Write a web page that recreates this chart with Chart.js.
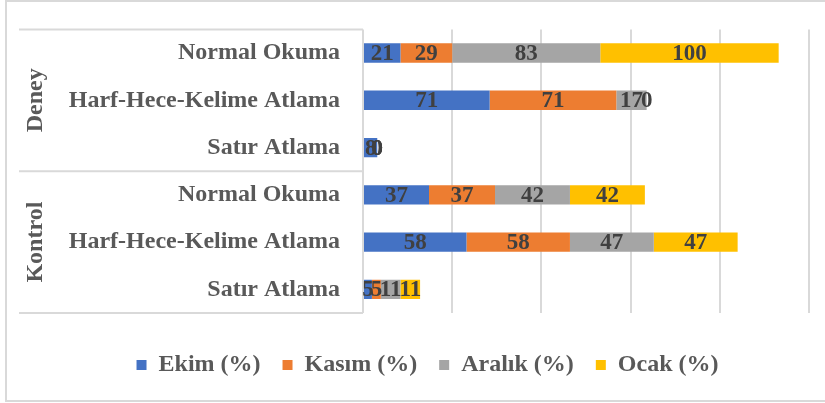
<!DOCTYPE html>
<html>
<head>
<meta charset="utf-8">
<script src="https://cdn.jsdelivr.net/npm/chart.js@4"></script>
<style>
  html, body { margin: 0; padding: 0; background: #fff; overflow: hidden; }
  #wrap { position: relative; width: 825px; height: 403px; }
</style>
</head>
<body>
<div id="wrap"><canvas id="chart" width="825" height="403"></canvas></div>
<script>
// data
const categories = ['Normal Okuma', 'Harf-Hece-Kelime Atlama', 'Satır Atlama',
                    'Normal Okuma', 'Harf-Hece-Kelime Atlama', 'Satır Atlama'];
const groups = ['Deney', 'Kontrol'];
const groupSize = 3;
const ekim = [21, 71, 8, 37, 58, 5];
const kasim = [29, 71, 0, 37, 58, 5];
const aralik = [83, 17, 0, 42, 47, 11];
const ocak = [100, 0, 0, 42, 47, 11];
const seriesNames = ['Ekim (%)', 'Kasım (%)', 'Aralık (%)', 'Ocak (%)'];
const seriesColors = ['#4472C4', '#ED7D31', '#A5A5A5', '#FFC000'];

const serif = "'Liberation Serif', 'Times New Roman', serif";
const lineGray = '#d9d9d9';

// border around the whole chart + the group boxes on the left
const framePlugin = {
  id: 'frame',
  beforeDraw(chart) {
    const ctx = chart.ctx;
    ctx.save();
    ctx.strokeStyle = lineGray;
    ctx.lineWidth = 2;
    ctx.strokeRect(6, 1, 840, 400);
    ctx.restore();
  },
  afterDraw(chart) {
    const { ctx, chartArea } = chart;
    const y = chart.scales.y;
    const half = (y.getPixelForValue(1) - y.getPixelForValue(0)) / 2;
    ctx.save();
    ctx.strokeStyle = lineGray;
    ctx.lineWidth = 2;
    const cuts = [];
    for (let g = 0; g <= groups.length; g++) {
      cuts.push(y.getPixelForValue(g * groupSize) - half);
    }
    cuts.forEach(py => {
      ctx.beginPath();
      ctx.moveTo(19, py);
      ctx.lineTo(chartArea.left, py);
      ctx.stroke();
    });
    // group names, rotated
    ctx.fillStyle = '#595959';
    ctx.font = 'bold 24px ' + serif;
    ctx.textAlign = 'center';
    ctx.textBaseline = 'middle';
    groups.forEach((name, g) => {
      const mid = (cuts[g] + cuts[g + 1]) / 2;
      ctx.save();
      ctx.translate(36, mid);
      ctx.rotate(-Math.PI / 2);
      ctx.fillText(name, 0, 0);
      ctx.restore();
    });
    ctx.restore();
  }
};

// value labels in the middle of each segment
const valueLabels = {
  id: 'valueLabels',
  afterDatasetsDraw(chart) {
    const ctx = chart.ctx;
    ctx.save();
    ctx.fillStyle = '#404040';
    ctx.font = 'bold 23px ' + serif;
    ctx.textAlign = 'center';
    ctx.textBaseline = 'middle';
    chart.data.datasets.forEach((ds, i) => {
      const meta = chart.getDatasetMeta(i);
      meta.data.forEach((bar, j) => {
        const cx = (bar.x + bar.base) / 2;
        ctx.fillText(String(ds.data[j]), cx, bar.y + 1);
      });
    });
    ctx.restore();
  }
};

const datasets = [ekim, kasim, aralik, ocak].map((vals, i) => ({
  label: seriesNames[i],
  data: vals,
  backgroundColor: seriesColors[i],
  borderWidth: 0,
  categoryPercentage: 1,
  barPercentage: 0.41
}));

new Chart(document.getElementById('chart'), {
  type: 'bar',
  data: { labels: categories, datasets: datasets },
  plugins: [framePlugin, valueLabels],
  options: {
    indexAxis: 'y',
    responsive: false,
    animation: false,
    layout: { padding: { top: 25, right: 16, bottom: 16, left: 46 } },
    plugins: {
      legend: {
        position: 'bottom',
        labels: {
          boxWidth: 10,
          boxHeight: 10,
          padding: 22,
          color: '#595959',
          font: { family: serif, size: 24, weight: 'bold' }
        }
      },
      tooltip: { enabled: false }
    },
    scales: {
      x: {
        stacked: true,
        min: 0,
        max: 250,
        ticks: { display: false, stepSize: 50 },
        grid: { color: lineGray, lineWidth: 2, drawTicks: false },
        border: { display: false },
        afterFit(scale) { scale.height = 18; }
      },
      y: {
        stacked: true,
        grid: { display: false },
        border: { display: false },
        ticks: {
          padding: 15,
          color: '#595959',
          font: { family: serif, size: 24, weight: 'bold' }
        },
        afterFit(scale) { scale.width = 317; }
      }
    }
  }
});
</script>
</body>
</html>
